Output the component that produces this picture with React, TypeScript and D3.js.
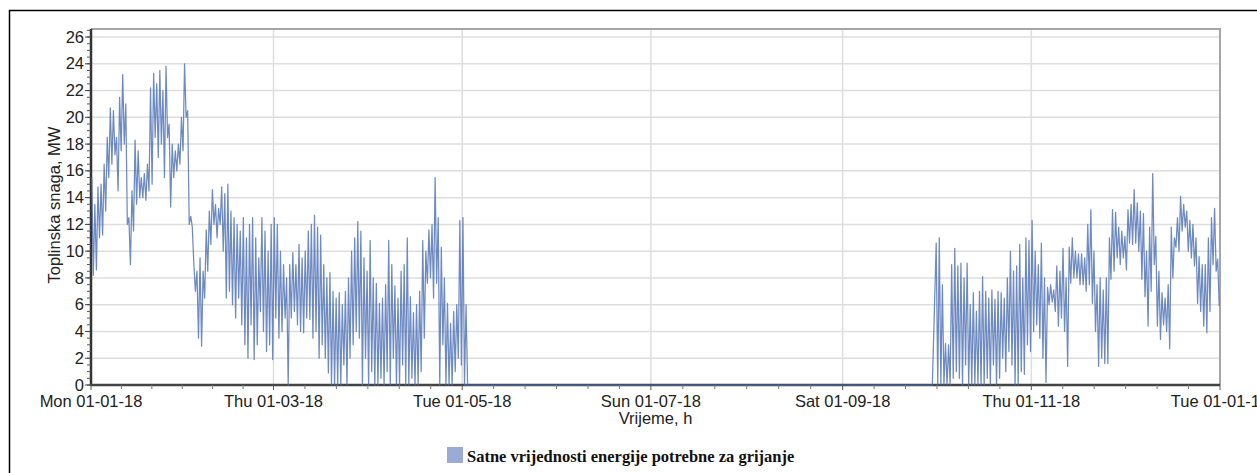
import React from "react";
import * as d3 from "d3";

// heating season 1: daily peak / trough (MW), from 2018-01-01
const springStart = "2018-01-01";
const springMax = [
  15.5, 13.5, 14.8, 15.0, 16.5, 18.5, 20.7, 20.5, 18.5, 21.5,
  23.2, 21.0, 12.5, 14.5, 18.3, 17.5, 15.5, 15.8, 16.5, 22.2,
  23.3, 22.5, 23.5, 22.0, 23.8, 19.5, 18.0, 17.5, 18.0, 20.0,
  24.0, 20.5, 12.6, 9.0, 8.5, 9.5, 8.5, 11.6, 13.0, 14.6,
  13.5, 13.2, 14.8, 14.3, 15.0, 13.0, 12.5, 12.0, 11.5, 12.5,
  11.0, 12.0, 12.5, 11.0, 9.5, 12.5, 11.5, 10.0, 12.0, 12.5,
  12.0, 10.0, 9.0, 8.0, 9.0, 9.9, 9.0, 10.5, 9.5, 10.0,
  11.5, 12.0, 12.7, 11.8, 11.2, 9.0, 8.0, 8.4, 7.0, 6.5,
  6.9, 6.0, 7.0, 8.0, 10.0, 11.0, 12.2, 11.5, 9.5, 8.5,
  10.8, 8.0, 7.6, 6.1, 6.5, 7.5, 10.8, 9.0, 7.4, 6.5,
  8.5, 9.0, 11.0, 6.6, 5.4, 6.0, 7.0, 10.8, 10.0, 11.6,
  12.0, 15.5, 12.5, 10.3, 8.0, 6.1, 4.6, 5.5, 6.0, 12.3,
  12.5, 6.0,
];
const springMin = [
  8.2, 8.6, 11.0, 11.2, 13.0, 15.5, 16.5, 17.2, 14.5, 17.5,
  18.0, 12.0, 9.0, 11.5, 13.5, 14.0, 14.0, 13.8, 14.5, 15.0,
  18.5, 17.0, 18.0, 15.5, 18.5, 13.3, 15.5, 16.0, 16.5, 17.5,
  20.0, 12.0, 11.8, 7.0, 3.5, 2.9, 6.5, 8.5, 10.5, 12.0,
  11.0, 12.0, 10.0, 6.5, 7.0, 6.0, 5.0, 6.5, 4.5, 3.0,
  2.0, 4.5, 1.9, 3.0, 5.5, 4.0, 2.5, 3.0, 1.9, 5.0,
  3.5, 4.0, 5.0, 0.0, 5.0, 5.5, 4.5, 4.0, 3.9, 5.0,
  4.9, 3.5, 4.0, 2.0, 3.0, 2.0, 0.9, 0.0, 0.0, 0.0,
  0.0, 1.5, 0.0, 2.0, 3.0, 4.0, 3.5, 0.0, 2.0, 0.0,
  1.0, 0.0, 0.0, 0.5, 0.0, 1.0, 0.0, 2.0, 0.0, 0.0,
  1.5, 0.0, 0.0, 0.5, 0.0, 0.0, 1.0, 3.5, 7.6, 8.0,
  6.5, 7.6, 0.0, 3.0, 0.0, 0.0, 0.0, 1.0, 2.0, 1.5,
  0.0, 0.0,
];

// heating season 2: daily peak / trough (MW), from 2018-10-01
const autumnStart = "2018-10-01";
const autumnMax = [
  10.6, 11.0, 7.5, 3.1, 3.0, 9.0, 10.2, 8.9, 9.1, 8.0,
  9.1, 6.0, 6.9, 5.5, 7.0, 8.1, 7.0, 6.5, 7.1, 6.4,
  7.0, 6.9, 6.5, 8.0, 10.0, 8.5, 8.9, 10.5, 8.0, 11.0,
  10.8, 12.3, 10.0, 9.0, 10.6, 8.0, 7.3, 7.5, 7.1, 8.9,
  8.5, 10.2, 8.0, 10.3, 11.0, 10.0, 9.8, 9.8, 9.5, 12.0,
  13.1, 10.0, 7.5, 8.0, 7.1, 8.0, 11.0, 13.1, 12.9, 11.8,
  11.5, 11.1, 13.1, 13.5, 14.6, 13.6, 13.0, 12.8, 10.0, 11.8,
  15.8, 11.1, 8.5, 6.9, 6.5, 7.5, 11.8, 11.0, 12.5, 14.1,
  13.5, 13.0, 12.3, 12.0, 11.0, 9.6, 9.0, 9.0, 11.0, 12.5,
  13.2, 9.4,
];
const autumnMin = [
  0, 0, 0, 0, 0, 0.5, 1.0, 0.5, 0, 1.5,
  0, 0, 0, 0, 0, 0, 0.5, 0, 1.5, 0,
  0.5, 2.0, 1.0, 2.5, 1.5, 0, 0, 1.0, 0.8, 3.0,
  2.5, 4.0, 4.5, 3.5, 2.0, 0.2, 6.0, 6.2, 5.5, 4.4,
  5.0, 4.0, 1.4, 7.6, 8.0, 8.0, 7.5, 7.5, 7.0, 7.5,
  6.1, 4.0, 1.4, 2.0, 1.6, 1.6, 7.9, 8.5, 9.5, 9.0,
  9.5, 8.6, 10.6, 10.5, 10.6, 10.0, 7.9, 6.6, 4.4, 7.0,
  9.0, 4.4, 3.4, 4.5, 4.0, 2.7, 8.0, 10.3, 10.0, 11.5,
  11.8, 10.0, 9.5, 8.9, 6.1, 5.5, 4.4, 3.9, 5.5, 9.0,
  8.5, 5.9,
];

// summer: heating off
const offSeason = [
  { date: "2018-05-02", value: 0 },
  { date: "2018-09-30", value: 0 },
];

const xTicks = ["2018-01-01", "2018-03-01", "2018-05-01", "2018-07-01", "2018-09-01", "2018-11-01", "2019-01-01"];
const yTicks = [0, 2, 4, 6, 8, 10, 12, 14, 16, 18, 20, 22, 24, 26];
const seriesName = "Satne vrijednosti energije potrebne za grijanje";

const parse = d3.timeParse("%Y-%m-%d");
const fmt = d3.timeFormat("%a %d-%m-%y");

function seasonPoints(start: string, hi: number[], lo: number[]) {
  const d0 = parse(start) as Date;
  const pts: { t: Date; v: number }[] = [];
  hi.forEach((h, i) => {
    const day = d3.timeDay.offset(d0, i);
    pts.push({ t: d3.timeHour.offset(day, 6), v: h });
    pts.push({ t: d3.timeHour.offset(day, 18), v: lo[i] });
  });
  return pts;
}

export default function App() {
  const W = 1257;
  const H = 473;
  const left = 91, right = 1220, top = 29, bottom = 385;

  const x = d3.scaleTime()
    .domain([parse(xTicks[0]) as Date, parse(xTicks[xTicks.length - 1]) as Date])
    .range([left, right]);
  const y = d3.scaleLinear().domain([0, 26.6]).range([bottom, top]);

  const points = [
    ...seasonPoints(springStart, springMax, springMin),
    ...offSeason.map((d) => ({ t: parse(d.date) as Date, v: d.value })),
    ...seasonPoints(autumnStart, autumnMax, autumnMin),
  ];
  const line = d3.line<{ t: Date; v: number }>()
    .x((d) => x(d.t))
    .y((d) => y(d.v));

  const tickDates = xTicks.map((s) => parse(s) as Date);
  // 5 minor ticks between majors
  const xMinor: number[] = [];
  for (let i = 0; i < tickDates.length - 1; i++) {
    const a = x(tickDates[i]), b = x(tickDates[i + 1]);
    for (let k = 1; k < 6; k++) xMinor.push(a + ((b - a) * k) / 6);
  }
  const yMinor = d3.range(0, 26.6, 0.5);

  const font = "'Liberation Sans', Arial, sans-serif";

  return (
    <svg width={W} height={H} style={{ position: "absolute", left: 0, top: 0, background: "#fff" }}>
      <defs>
        <clipPath id="plot">
          <rect x={left} y={top} width={right - left} height={bottom - top + 1} />
        </clipPath>
      </defs>
      <rect x={9.5} y={10.5} width={1250} height={470} fill="#fff" stroke="#000" strokeWidth={1.5} />

      {/* grid */}
      {yTicks.map((v) => (
        <line key={"gy" + v} x1={left} x2={right} y1={y(v)} y2={y(v)} stroke="#dedede" strokeWidth={1.5} />
      ))}
      {tickDates.slice(1, -1).map((d, i) => (
        <line key={"gx" + i} x1={x(d)} x2={x(d)} y1={top} y2={bottom} stroke="#dedede" strokeWidth={1.5} />
      ))}
      <path d={`M${left},${top}H${right}V${bottom}`} fill="none" stroke="#a6a6a6" strokeWidth={2} />

      {/* axes */}
      <line x1={left} x2={left} y1={top} y2={bottom + 1} stroke="#333" strokeWidth={2.5} />
      <line x1={left - 1} x2={right} y1={bottom} y2={bottom} stroke="#444" strokeWidth={2.5} />

      {/* series */}
      <path
        d={line(points) || ""}
        fill="none"
        stroke="#4a6db3"
        strokeOpacity={0.8}
        strokeWidth={1.25}
        strokeLinejoin="round"
        clipPath="url(#plot)"
      />

      {yMinor.map((v) => (
        <line key={"ym" + v} x1={left - 4} x2={left} y1={y(v)} y2={y(v)} stroke="#555" strokeWidth={1} />
      ))}
      {yTicks.map((v) => (
        <g key={"yt" + v}>
          <line x1={left - 6} x2={left} y1={y(v)} y2={y(v)} stroke="#444" strokeWidth={1} />
          <text x={left - 7} y={y(v)} dy="0.34em" textAnchor="end" fontFamily={font} fontSize={16.5} fill="#222">
            {v}
          </text>
        </g>
      ))}
      {xMinor.map((px, i) => (
        <line key={"xm" + i} x1={px} x2={px} y1={bottom} y2={bottom + 4} stroke="#777" strokeWidth={1} />
      ))}
      {tickDates.map((d, i) => (
        <g key={"xt" + i}>
          <line x1={x(d)} x2={x(d)} y1={bottom} y2={bottom + 5} stroke="#555" strokeWidth={1} />
          <text x={x(d)} y={bottom + 22} textAnchor="middle" fontFamily={font} fontSize={16.5} fill="#222">
            {fmt(d)}
          </text>
        </g>
      ))}

      {/* axis titles */}
      <text x={(left + right) / 2} y={424} textAnchor="middle" fontFamily={font} fontSize={16.5} fill="#222">
        Vrijeme, h
      </text>
      <text
        transform={`translate(60,${(top + bottom) / 2 - 2}) rotate(-90)`}
        textAnchor="middle"
        fontFamily={font}
        fontSize={16.5}
        fill="#222"
      >
        Toplinska snaga, MW
      </text>

      {/* legend */}
      <rect x={447} y={447} width={16} height={16} fill="#9aacd3" />
      <text x={467} y={462} fontFamily="'Liberation Serif', 'Times New Roman', serif" fontWeight="bold" fontSize={16.5} fill="#111">
        {seriesName}
      </text>
    </svg>
  );
}
